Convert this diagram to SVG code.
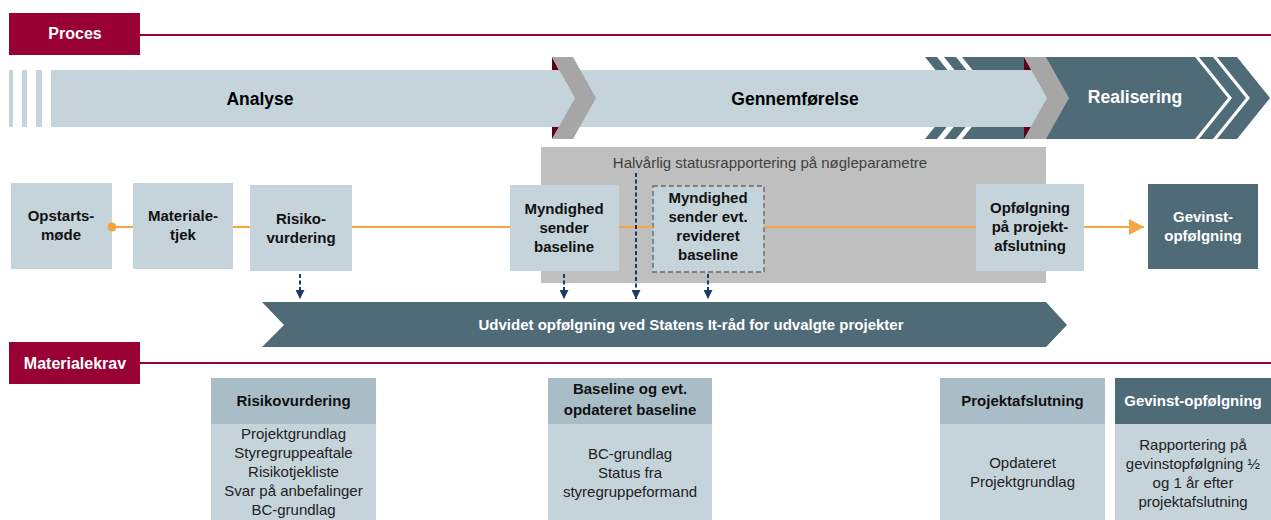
<svg xmlns="http://www.w3.org/2000/svg" width="1271" height="520" viewBox="0 0 1271 520">
<defs>
<style>
text{font-family:"Liberation Sans",Arial,sans-serif;}
.lbl{fill:#ffffff;font-weight:bold;font-size:16px;text-anchor:middle;}
.phase{font-weight:bold;font-size:17.5px;text-anchor:middle;fill:#000;}
.box{fill:#C5D3DA;}
.dark{fill:#4F6B78;}
.hdr{fill:#A9BDC6;}
.bt{font-weight:bold;font-size:15px;text-anchor:middle;fill:#111;}
.bw{font-weight:bold;font-size:15px;text-anchor:middle;fill:#fff;}
.rt{font-size:15px;text-anchor:middle;fill:#222;}
.red{fill:#990033;}
.redline{stroke:#990033;stroke-width:2;}
.gch{fill:#A6A6A6;}
.mar{fill:#5E0018;}
.org{stroke:#F7A542;stroke-width:2;fill:none;}
.nav{stroke:#1F3864;stroke-width:2;stroke-dasharray:4 2.5;fill:none;}
</style>
<marker id="navArrow" markerUnits="userSpaceOnUse" markerWidth="9" markerHeight="9" viewBox="0 0 8 8" refX="8" refY="4" orient="auto">
<path d="M0,0 L8,4 L0,8 Z" fill="#1F3864"/>
</marker>
<marker id="orArrow" markerUnits="userSpaceOnUse" markerWidth="15" markerHeight="16" viewBox="0 0 15 16" refX="15" refY="8" orient="auto">
<path d="M0,0 L15,8 L0,16 Z" fill="#F7A542"/>
</marker>
</defs>
<rect width="1271" height="520" fill="#ffffff"/>

<!-- Section headers -->
<g id="proces">
<line class="redline" x1="140" y1="35" x2="1271" y2="35"/>
<rect class="red" x="9" y="13" width="131" height="42"/>
<text class="lbl" x="75" y="39">Proces</text>
</g>
<g id="materialekrav">
<line class="redline" x1="140" y1="363" x2="1271" y2="363"/>
<rect class="red" x="9" y="342" width="131" height="42"/>
<text class="lbl" x="75" y="369">Materialekrav</text>
</g>

<!-- Phase band -->
<g id="phases">
<polygon class="dark" points="962,57 1195,57 1228,98 1195,139 962,139 995,98"/>
<polygon class="dark" points="925,57 937,57 970,98 937,139 925,139 958,98"/>
<polygon class="dark" points="944,57 956,57 989,98 956,139 944,139 977,98"/>
<polygon class="dark" points="1199,57 1213,57 1246,98 1213,139 1199,139 1232,98"/>
<polygon class="dark" points="1217,57 1237,57 1270,98 1237,139 1217,139 1250,98"/>
<rect class="box" x="9" y="70" width="4" height="57"/>
<rect class="box" x="22" y="70" width="5" height="57"/>
<rect class="box" x="36" y="70" width="6" height="57"/>
<rect class="box" x="51" y="70" width="999" height="57"/>
<polygon class="mar" points="552,57 559,70 552,70"/>
<polygon class="mar" points="552,127 559,127 552,139"/>
<polygon class="mar" points="1024,57 1031,70 1024,70"/>
<polygon class="mar" points="1024,127 1031,127 1024,139"/>
<polygon class="gch" points="552,57 573,57 596,98 573,139 552,139 575,98"/>
<polygon class="gch" points="1024,57 1046,57 1069,98 1046,139 1024,139 1047,98"/>
<text class="phase" x="260" y="105">Analyse</text>
<text class="phase" x="795" y="105">Gennemførelse</text>
<text class="phase" x="1135" y="103" style="fill:#fff">Realisering</text>
</g>

<!-- Status area -->
<g id="status">
<rect x="541" y="147" width="505" height="136" fill="#BFBFBF"/>
<text x="770" y="168" font-size="15" text-anchor="middle" fill="#3F3F3F">Halvårlig statusrapportering på nøgleparametre</text>
</g>

<!-- Process nodes -->
<g id="opstart">
<rect class="box" x="11" y="183" width="101" height="86"/>
<text class="bt" x="61" y="221">Opstarts-</text>
<text class="bt" x="61" y="240">møde</text>
</g>
<g id="materialetjek">
<rect class="box" x="133" y="183" width="100" height="86"/>
<text class="bt" x="183" y="221">Materiale-</text>
<text class="bt" x="183" y="240">tjek</text>
</g>
<g id="risikovurdering">
<rect class="box" x="250" y="185" width="102" height="86"/>
<text class="bt" x="301" y="224">Risiko-</text>
<text class="bt" x="301" y="243">vurdering</text>
</g>
<g id="baseline">
<rect class="box" x="510" y="185" width="109" height="86"/>
<text class="bt" x="564" y="214">Myndighed</text>
<text class="bt" x="564" y="233">sender</text>
<text class="bt" x="564" y="252">baseline</text>
</g>
<g id="revideret">
<rect class="box" x="653" y="186" width="111" height="86" stroke="#7F7F7F" stroke-width="1.8" stroke-dasharray="5 3"/>
<text class="bt" x="708" y="203">Myndighed</text>
<text class="bt" x="708" y="222">sender evt.</text>
<text class="bt" x="708" y="241">revideret</text>
<text class="bt" x="708" y="260">baseline</text>
</g>
<g id="opfoelgning">
<rect class="box" x="976" y="184" width="108" height="87"/>
<text class="bt" x="1030" y="213">Opfølgning</text>
<text class="bt" x="1030" y="232">på projekt-</text>
<text class="bt" x="1030" y="251">afslutning</text>
</g>
<g id="gevinst">
<rect class="dark" x="1148" y="184" width="110" height="85"/>
<text class="bw" x="1203" y="222">Gevinst-</text>
<text class="bw" x="1203" y="241">opfølgning</text>
</g>

<!-- Udvidet band -->
<g id="udvidet">
<polygon class="dark" points="262,302 1046,302 1067,325 1046,347 262,347 284,325"/>
<text class="bw" x="691" y="330">Udvidet opfølgning ved Statens It-råd for udvalgte projekter</text>
</g>

<!-- Connectors -->
<g id="connectors">
<line class="org" x1="112" y1="227" x2="133" y2="227"/>
<line class="org" x1="233" y1="227" x2="250" y2="227"/>
<line class="org" x1="352" y1="227" x2="510" y2="227"/>
<line class="org" x1="619" y1="227" x2="653" y2="227"/>
<line class="org" x1="764" y1="227" x2="976" y2="227"/>
<line class="org" x1="1084" y1="227" x2="1144" y2="227" marker-end="url(#orArrow)"/>
<circle cx="112" cy="227" r="4.5" fill="#F7A542"/>
<line class="nav" x1="300" y1="274" x2="300" y2="299" marker-end="url(#navArrow)"/>
<line class="nav" x1="564" y1="274" x2="564" y2="299" marker-end="url(#navArrow)"/>
<line class="nav" x1="636" y1="173" x2="636" y2="299" marker-end="url(#navArrow)"/>
<line class="nav" x1="708" y1="274" x2="708" y2="299" marker-end="url(#navArrow)"/>
</g>

<!-- Material requirement boxes -->
<g id="mk-risiko">
<rect class="hdr" x="211" y="378" width="165" height="46"/>
<rect class="box" x="211" y="424" width="165" height="96"/>
<text class="bt" x="293.5" y="406">Risikovurdering</text>
<text class="rt" x="293.5" y="439">Projektgrundlag</text>
<text class="rt" x="293.5" y="458">Styregruppeaftale</text>
<text class="rt" x="293.5" y="477">Risikotjekliste</text>
<text class="rt" x="293.5" y="496">Svar på anbefalinger</text>
<text class="rt" x="293.5" y="515">BC-grundlag</text>
</g>
<g id="mk-baseline">
<rect class="hdr" x="548" y="378" width="164" height="46"/>
<rect class="box" x="548" y="424" width="164" height="96"/>
<text class="bt" x="630" y="394">Baseline og evt.</text>
<text class="bt" x="630" y="415">opdateret baseline</text>
<text class="rt" x="630" y="459">BC-grundlag</text>
<text class="rt" x="630" y="478">Status fra</text>
<text class="rt" x="630" y="497">styregruppeformand</text>
</g>
<g id="mk-projektafslutning">
<rect class="hdr" x="940" y="378" width="165" height="46"/>
<rect class="box" x="940" y="424" width="165" height="96"/>
<text class="bt" x="1022.5" y="406">Projektafslutning</text>
<text class="rt" x="1022.5" y="468">Opdateret</text>
<text class="rt" x="1022.5" y="487">Projektgrundlag</text>
</g>
<g id="mk-gevinst">
<rect class="dark" x="1115" y="378" width="156" height="46"/>
<rect class="box" x="1115" y="424" width="156" height="96"/>
<text class="bw" x="1193" y="406">Gevinst-opfølgning</text>
<text class="rt" x="1193" y="450">Rapportering på</text>
<text class="rt" x="1193" y="469">gevinstopfølgning ½</text>
<text class="rt" x="1193" y="488">og 1 år efter</text>
<text class="rt" x="1193" y="507">projektafslutning</text>
</g>
</svg>
